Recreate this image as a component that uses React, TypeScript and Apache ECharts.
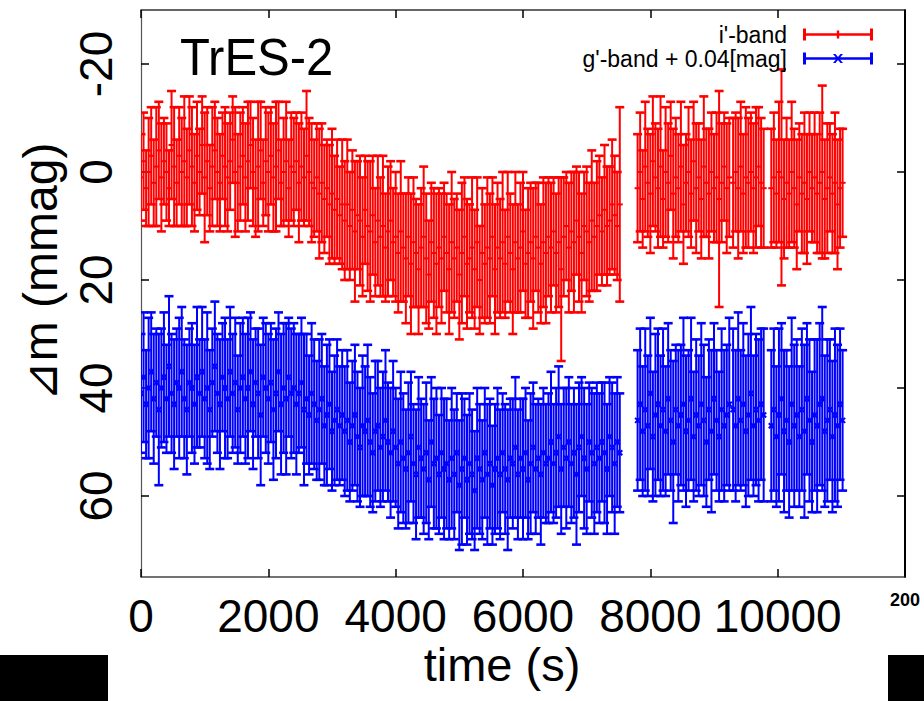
import React, { useEffect, useRef } from 'react';
import * as echarts from 'echarts';

// observation times (s)
const times = [
  0, 40, 80, 120, 160, 200, 240, 280, 320, 360, 400, 440, 480, 520, 560, 600, 640, 680, 720, 760,
  800, 840, 880, 920, 960, 1000, 1040, 1080, 1120, 1160, 1200, 1240, 1280, 1320, 1360, 1400, 1440, 1480, 1520, 1560,
  1600, 1640, 1680, 1720, 1760, 1800, 1840, 1880, 1920, 1960, 2000, 2040, 2080, 2120, 2160, 2200, 2240, 2280, 2320, 2360,
  2400, 2440, 2480, 2520, 2560, 2600, 2640, 2680, 2720, 2760, 2800, 2840, 2880, 2920, 2960, 3000, 3040, 3080, 3120, 3160,
  3200, 3240, 3280, 3320, 3360, 3400, 3440, 3480, 3520, 3560, 3600, 3640, 3680, 3720, 3760, 3800, 3840, 3880, 3920, 3960,
  4000, 4040, 4080, 4120, 4160, 4200, 4240, 4280, 4320, 4360, 4400, 4440, 4480, 4520, 4560, 4600, 4640, 4680, 4720, 4760,
  4800, 4840, 4880, 4920, 4960, 5000, 5040, 5080, 5120, 5160, 5200, 5240, 5280, 5320, 5360, 5400, 5440, 5480, 5520, 5560,
  5600, 5640, 5680, 5720, 5760, 5800, 5840, 5880, 5920, 5960, 6000, 6040, 6080, 6120, 6160, 6200, 6240, 6280, 6320, 6360,
  6400, 6440, 6480, 6520, 6560, 6600, 6640, 6680, 6720, 6760, 6800, 6840, 6880, 6920, 6960, 7000, 7040, 7080, 7120, 7160,
  7200, 7240, 7280, 7320, 7360, 7400, 7440, 7480, 7520,
  7800, 7840, 7880, 7920, 7960, 8000, 8040, 8080, 8120, 8160, 8200, 8240, 8280, 8320, 8360, 8400, 8440, 8480, 8520, 8560,
  8600, 8640, 8680, 8720, 8760, 8800, 8840, 8880, 8920, 8960, 9000, 9040, 9080, 9120, 9160, 9200, 9240,
  9300, 9340, 9380, 9420, 9460, 9500, 9540, 9580, 9620, 9660, 9700, 9740, 9780,
  9900, 9940, 9980, 10020, 10060, 10100, 10140, 10180, 10220, 10260, 10300, 10340, 10380, 10420, 10460, 10500, 10540,
  10580, 10620, 10660, 10700, 10740, 10780, 10820, 10860, 10900, 10940, 10980, 11020,
];

// i'-band (mmag)
const iBand = [
  1, -2, 3, 0, -3, 2, -1, -4, 1, -2, 0, 3, -5, -1, 2, -3, 0, -2, 1, -4,
  -1, 2, -3, 0, -5, 1, -2, 3, -1, -4, 0, 2, -3, -1, 1, -2, -6, 0, 2, -1,
  -3, 1, -2, -5, 0, 3, -1, -4, 2, -2, 0, -3, 1, -1, -4, 2, 0, -2, 3, -1,
  0, -2, 2, -1, 1, -3, 0, 2, 3, 1, 4, 2, 5, 3, 6, 4, 7, 5, 8, 6,
  9, 6, 10, 7, 11, 8, 9, 12, 7, 10, 11, 8, 13, 9, 12, 10, 14, 11, 9, 13,
  12, 15, 11, 14, 16, 12, 17, 13, 15, 18, 14, 12, 16, 19, 13, 15, 17, 14, 16, 12,
  15, 18, 13, 16, 14, 19, 15, 12, 17, 16, 14, 18, 13, 20, 15, 17, 14, 16, 12, 18,
  14, 16, 13, 17, 12, 15, 18, 13, 16, 14, 11, 17, 15, 13, 16, 12, 14, 17, 13, 15,
  12, 14, 11, 15, 13, 18, 12, 10, 14, 11, 13, 9, 12, 15, 10, 11, 13, 9, 12, 10,
  8, 11, 7, 10, 9, 6, 8, 10, 6,
  3, 0, 5, -1, 2, 4, -2, 1, 3, -1, 5, 0, 2, -3, 4, 1, 3, -1, 6, 2,
  0, 4, -2, 3, 1, 5, -1, 2, 4, 0, 3, 1, 5, 2, -1, 3, 1,
  2, 0, 3, -1, 4, 1, 2, 0, 3, 1, -1, 2, 3,
  3, 1, 4, 0, 1, 5, 2, 4, 0, 3, 6, 1, 4, 2, 5, 0, 3, 1, 4, 2, 0, 5, 3, 1, 4, 2, 6, 3, 2,
];
const iBandErr = [
  8, 9, 7, 10, 9, 8, 11, 9, 10, 8, 9, 7, 10, 11, 8, 9, 10, 12, 9, 10,
  11, 9, 10, 8, 9, 12, 10, 8, 11, 9, 10, 9, 8, 11, 10, 9, 8, 12, 9, 10,
  9, 10, 11, 8, 10, 9, 12, 9, 8, 10, 11, 9, 10, 12, 9, 8, 10, 11, 9, 10,
  10, 9, 11, 10, 9, 12, 10, 11, 9, 10, 12, 11, 10, 9, 11, 12, 10, 11, 9, 12,
  11, 12, 10, 11, 13, 10, 12, 11, 10, 12, 13, 11, 10, 12, 11, 13, 10, 12, 11, 10,
  12, 11, 13, 10, 12, 11, 13, 12, 10, 12, 11, 13, 12, 10, 11, 12, 13, 11, 12, 10,
  11, 12, 13, 11, 10, 12, 13, 11, 12, 10, 13, 11, 12, 10, 12, 11, 13, 12, 11, 12,
  12, 11, 13, 10, 12, 11, 12, 13, 10, 12, 11, 10, 12, 11, 13, 10, 12, 11, 12, 13,
  11, 12, 10, 11, 12, 17, 11, 10, 12, 11, 13, 10, 12, 11, 10, 12, 11, 13, 10, 12,
  11, 10, 12, 11, 10, 12, 11, 10, 18,
  10, 11, 9, 12, 10, 11, 12, 10, 11, 13, 9, 12, 11, 10, 12, 11, 10, 12, 11, 9,
  12, 10, 11, 12, 10, 11, 13, 10, 12, 11, 10, 12, 20, 11, 10, 12, 11,
  12, 11, 13, 12, 11, 13, 12, 11, 12, 13, 11, 12, 11,
  11, 12, 10, 13, 20, 11, 12, 10, 13, 11, 12, 10, 11, 13, 12, 11, 10, 12, 11, 13, 16, 11, 12, 10, 11, 13, 12, 11, 10,
];

// g'-band + 0.04 mag (mmag)
const gBand = [
  41, 38, 43, 40, 37, 42, 39, 44, 40, 38, 42, 36, 41, 43, 39, 40, 37, 42, 44, 39,
  40, 43, 38, 41, 37, 42, 40, 44, 39, 36, 41, 43, 38, 40, 42, 37, 41, 39, 44, 40,
  38, 42, 40, 37, 43, 39, 41, 45, 38, 40, 42, 39, 44, 41, 37, 43, 40, 42, 38, 41,
  40, 43, 41, 39, 44, 42, 45, 41, 43, 46, 44, 42, 47, 45, 43, 48, 46, 44, 47, 45,
  48, 46, 50, 47, 45, 49, 51, 47, 48, 46, 50, 52, 48, 47, 51, 49, 46, 50, 52, 48,
  51, 54, 50, 53, 55, 52, 49, 54, 56, 51, 53, 55, 52, 57, 50, 54, 53, 56, 52, 55,
  54, 57, 53, 56, 52, 58, 55, 53, 57, 54, 56, 59, 53, 55, 57, 52, 56, 54, 58, 55,
  53, 56, 52, 55, 57, 53, 54, 51, 56, 53, 55, 52, 57, 54, 51, 55, 53, 56, 52, 54,
  53, 50, 54, 52, 49, 55, 51, 53, 50, 54, 52, 56, 51, 49, 53, 55, 50, 52, 54, 51,
  53, 50, 52, 55, 49, 51, 54, 50, 52,
  46, 43, 48, 44, 47, 41, 49, 45, 43, 47, 44, 48, 42, 46, 50, 44, 47, 45, 43, 48,
  46, 42, 49, 45, 47, 43, 46, 50, 44, 48, 42, 46, 49, 44, 47, 45, 43,
  44, 47, 42, 46, 43, 48, 45, 41, 47, 44, 46, 43, 45,
  47, 44, 49, 45, 42, 48, 46, 50, 43, 47, 45, 49, 44, 48, 42, 46, 50, 45, 47, 43, 42, 48, 46, 44, 49, 45, 47, 43, 46,
];
const gBandErr = [
  11, 12, 10, 13, 11, 12, 10, 14, 11, 12, 10, 13, 11, 12, 10, 13, 12, 11, 12, 10,
  12, 11, 13, 10, 12, 11, 14, 11, 10, 12, 11, 12, 10, 13, 11, 12, 11, 12, 10, 12,
  11, 12, 13, 11, 12, 10, 12, 13, 11, 12, 12, 11, 13, 12, 11, 13, 12, 14, 11, 12,
  12, 13, 11, 12, 14, 12, 11, 13, 12, 11, 13, 12, 11, 13, 12, 11, 12, 13, 11, 12,
  12, 13, 11, 12, 13, 12, 11, 13, 12, 14, 12, 11, 13, 12, 11, 12, 13, 11, 12, 13,
  11, 12, 13, 12, 11, 13, 12, 11, 12, 13, 11, 12, 13, 11, 12, 12, 13, 11, 12, 13,
  12, 11, 13, 12, 11, 12, 14, 11, 12, 13, 12, 11, 13, 12, 11, 12, 13, 12, 11, 12,
  13, 12, 11, 12, 13, 11, 12, 13, 12, 11, 13, 12, 11, 13, 12, 12, 11, 13, 12, 11,
  12, 13, 11, 12, 13, 12, 11, 13, 12, 11, 12, 13, 12, 11, 13, 12, 11, 12, 13, 12,
  12, 11, 13, 12, 11, 12, 13, 12, 11,
  13, 14, 12, 15, 13, 14, 12, 15, 14, 13, 15, 12, 14, 13, 15, 12, 14, 13, 16, 14,
  13, 15, 12, 14, 13, 15, 14, 12, 13, 15, 14, 13, 12, 15, 14, 13, 16,
  15, 14, 16, 13, 15, 14, 15, 16, 13, 14, 15, 14, 16,
  14, 15, 13, 16, 14, 15, 13, 14, 16, 15, 14, 13, 15, 16, 14, 15, 13, 14, 16, 15, 17, 14, 15, 13, 14, 16, 15, 14, 13,
];

const xTicks = [0, 2000, 4000, 6000, 8000, 10000, 12000];
const xLabels = [0, 2000, 4000, 6000, 8000, 10000];
const yTicks = [-20, 0, 20, 40, 60];

const FONT = "'Liberation Sans', Arial, 'DejaVu Sans', sans-serif";
const RED = '#ff0000';
const BLUE = '#0000ff';

const RED_ICON = 'path://M0 0h3v12h-3z M67 0h3v12h-3z M0 4.8h70v2.4h-70z M33.8 2h2.4v8h-2.4z';
const BLUE_ICON =
  'path://M0 0h3v12h-3z M67 0h3v12h-3z M0 4.8h70v2.4h-70z M30 1.5L32.5 1.5L40 10.5L37.5 10.5Z M37.5 1.5L40 1.5L32.5 10.5L30 10.5Z';

function errorBars(color: string, marker: 'plus' | 'cross') {
  return (_params: any, api: any) => {
    const t = api.value(0);
    const v = api.value(1);
    const e = api.value(2);
    const c = api.coord([t, v]);
    const hi = api.coord([t, v - e]);
    const lo = api.coord([t, v + e]);
    const hw = 4.5;
    const bar = { stroke: color, lineWidth: 2 };
    const cap = { stroke: color, lineWidth: 2.6 };
    const children: any[] = [
      { type: 'line', shape: { x1: c[0], y1: hi[1], x2: c[0], y2: lo[1] }, style: bar },
      { type: 'line', shape: { x1: c[0] - hw, y1: hi[1], x2: c[0] + hw, y2: hi[1] }, style: cap },
      { type: 'line', shape: { x1: c[0] - hw, y1: lo[1], x2: c[0] + hw, y2: lo[1] }, style: cap },
    ];
    if (marker === 'plus') {
      children.push({ type: 'line', shape: { x1: c[0] - 3, y1: c[1], x2: c[0] + 3, y2: c[1] }, style: bar });
    } else {
      children.push({ type: 'line', shape: { x1: c[0] - 2.5, y1: c[1] - 2.5, x2: c[0] + 2.5, y2: c[1] + 2.5 }, style: bar });
      children.push({ type: 'line', shape: { x1: c[0] - 2.5, y1: c[1] + 2.5, x2: c[0] + 2.5, y2: c[1] - 2.5 }, style: bar });
    }
    return { type: 'group', children };
  };
}

export default function App() {
  const ref = useRef<HTMLDivElement>(null);

  useEffect(() => {
    if (!ref.current) return;
    const chart = echarts.init(ref.current, undefined, { renderer: 'svg' });

    const iData = times.map((t, i) => [t, iBand[i], iBandErr[i]]);
    const gData = times.map((t, i) => [t, gBand[i], gBandErr[i]]);

    const tickCommon = { inside: true, length: 8, lineStyle: { color: '#000', width: 1.5 } };

    chart.setOption({
      animation: false,
      backgroundColor: '#ffffff',
      grid: { left: 141, right: 19, top: 10, bottom: 124, containLabel: false },
      xAxis: [
        {
          type: 'value',
          position: 'bottom',
          min: 0,
          max: 12000,
          interval: 2000,
          splitLine: { show: false },
          axisLine: { show: true, onZero: false, lineStyle: { color: '#444', width: 1.5 } },
          axisTick: { ...tickCommon, customValues: xTicks },
          axisLabel: {
            customValues: xLabels,
            formatter: (v: number) => String(v),
            hideOverlap: false,
            fontSize: 46,
            lineHeight: 40,
            fontFamily: FONT,
            color: '#000',
            margin: 19,
          },
        },
        {
          type: 'value',
          position: 'top',
          min: 0,
          max: 12000,
          interval: 2000,
          splitLine: { show: false },
          axisLine: { show: true, onZero: false, lineStyle: { color: '#333', width: 1.5 } },
          axisTick: { ...tickCommon, customValues: xTicks },
          axisLabel: { show: false },
        },
      ],
      yAxis: [
        {
          type: 'value',
          position: 'left',
          inverse: true,
          min: -30,
          max: 75,
          interval: 10,
          splitLine: { show: false },
          axisLine: { show: true, onZero: false, lineStyle: { color: '#555', width: 1.2 } },
          axisTick: { ...tickCommon, customValues: yTicks },
          axisLabel: {
            customValues: yTicks,
            formatter: (v: number) => String(v),
            rotate: 90,
            fontSize: 46,
            fontFamily: FONT,
            color: '#000',
            margin: 22,
          },
        },
        {
          type: 'value',
          position: 'right',
          inverse: true,
          min: -30,
          max: 75,
          interval: 10,
          splitLine: { show: false },
          axisLine: { show: true, onZero: false, lineStyle: { color: '#000', width: 2 } },
          axisTick: { ...tickCommon, customValues: yTicks },
          axisLabel: { show: false },
        },
      ],
      legend: {
        orient: 'vertical',
        right: 46,
        top: 18,
        align: 'right',
        itemWidth: 70,
        itemHeight: 12,
        itemGap: 1,
        selectedMode: false,
        textStyle: { fontSize: 23, fontFamily: FONT, color: '#000', padding: [0, 11, 0, 0] },
        data: [
          { name: "i'-band", icon: RED_ICON },
          { name: "g'-band + 0.04[mag]", icon: BLUE_ICON },
        ],
      },
      series: [
        {
          type: 'custom',
          name: "i'-band",
          xAxisIndex: 0,
          yAxisIndex: 0,
          renderItem: errorBars(RED, 'plus'),
          encode: { x: 0, y: 1 },
          itemStyle: { color: RED },
          clip: true,
          data: iData,
        },
        {
          type: 'custom',
          name: "g'-band + 0.04[mag]",
          xAxisIndex: 0,
          yAxisIndex: 0,
          renderItem: errorBars(BLUE, 'cross'),
          encode: { x: 0, y: 1 },
          itemStyle: { color: BLUE },
          clip: true,
          data: gData,
        },
      ],
      graphic: [
        {
          type: 'text',
          x: 180,
          y: 58,
          scaleY: 1.05,
          style: {
            text: 'TrES-2',
            fontSize: 49,
            fontFamily: FONT,
            fill: '#000',
            align: 'left',
            verticalAlign: 'middle',
          },
        },
        {
          type: 'text',
          x: 40,
          y: 272,
          rotation: Math.PI / 2,
          style: {
            text: '⊿m (mmag)',
            fontSize: 48,
            fontFamily: FONT,
            fill: '#000',
            align: 'center',
            verticalAlign: 'middle',
          },
        },
        {
          type: 'text',
          x: 502,
          y: 664,
          style: {
            text: 'time (s)',
            fontSize: 47,
            lineHeight: 44,
            fontFamily: FONT,
            fill: '#000',
            align: 'center',
            verticalAlign: 'middle',
          },
        },
        {
          type: 'text',
          x: 890,
          y: 600,
          style: {
            text: '200',
            fontSize: 18,
            fontWeight: 'bold',
            fontFamily: FONT,
            fill: '#000',
            align: 'left',
            verticalAlign: 'middle',
          },
        },
        { type: 'rect', shape: { x: 0, y: 655, width: 108, height: 46 }, style: { fill: '#000' } },
        { type: 'rect', shape: { x: 888, y: 655, width: 36, height: 46 }, style: { fill: '#000' } },
      ],
    });

    return () => chart.dispose();
  }, []);

  return (
    <div
      ref={ref}
      style={{ position: 'absolute', left: 0, top: 0, width: 924, height: 701, background: '#fff' }}
    />
  );
}
